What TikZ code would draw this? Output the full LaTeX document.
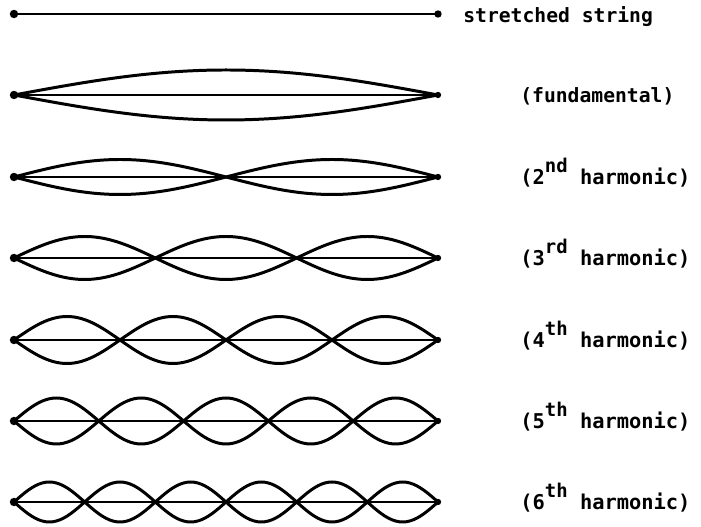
\documentclass[tikz,border=0pt]{standalone}
\usepackage{fontspec}
\newfontfamily\lettering{DejaVu Sans Mono Bold}
\newcommand{\harmsup}[2]{#1\raisebox{0.6em}{\fontsize{10.8}{11}\selectfont #2}}

\begin{document}
\begin{tikzpicture}[line cap=round,
  string/.style={line width=0.85pt},
  loop/.style={line width=1.7pt},
  lbl/.style={anchor=base west, inner sep=0pt, font=\lettering\fontsize{11.2}{13}\selectfont}]
\useasboundingbox (0,0) rectangle (14.02,10.54);
% 拉紧的弦
\coordinate (L0) at (0.28,10.26);
\coordinate (R0) at (8.76,10.26);
\draw[line width=1.1pt] (L0) -- (R0);
\fill (L0) circle (2.4pt);
\fill (R0) circle (2.1pt);
\node[lbl] (t0) at (9.26,10.08) {stretched string};
% 基频与各次谐波
\foreach \n/\y/\a/\txt in {1/8.64/0.50/{(fundamental)},
                          2/7.00/0.35/{\fontsize{11.6}{13}\selectfont(\harmsup{2}{nd} harmonic)},
                          3/5.38/0.43/{\fontsize{11.6}{13}\selectfont(\harmsup{3}{rd} harmonic)},
                          4/3.74/0.47/{\fontsize{11.6}{13}\selectfont(\harmsup{4}{th} harmonic)},
                          5/2.12/0.46/{\fontsize{11.6}{13}\selectfont(\harmsup{5}{th} harmonic)},
                          6/0.50/0.40/{\fontsize{11.6}{13}\selectfont(\harmsup{6}{th} harmonic)}} {
  \coordinate (L\n) at (0.28,\y);
  \coordinate (R\n) at (8.76,\y);
  \draw[string] (L\n) -- (R\n);
  \draw[loop] plot[domain=0:8.48, samples=121] ({0.28+\x},{\y+\a*abs(sin(180*\n*\x/8.48))});
  \draw[loop] plot[domain=0:8.48, samples=121] ({0.28+\x},{\y-\a*abs(sin(180*\n*\x/8.48))});
  \fill (L\n) circle (2.4pt);
  \fill (R\n) circle (1.8pt);
  \node[lbl] (t\n) at (10.40,\y-0.15) {\txt};
}
\end{tikzpicture}
\end{document}
